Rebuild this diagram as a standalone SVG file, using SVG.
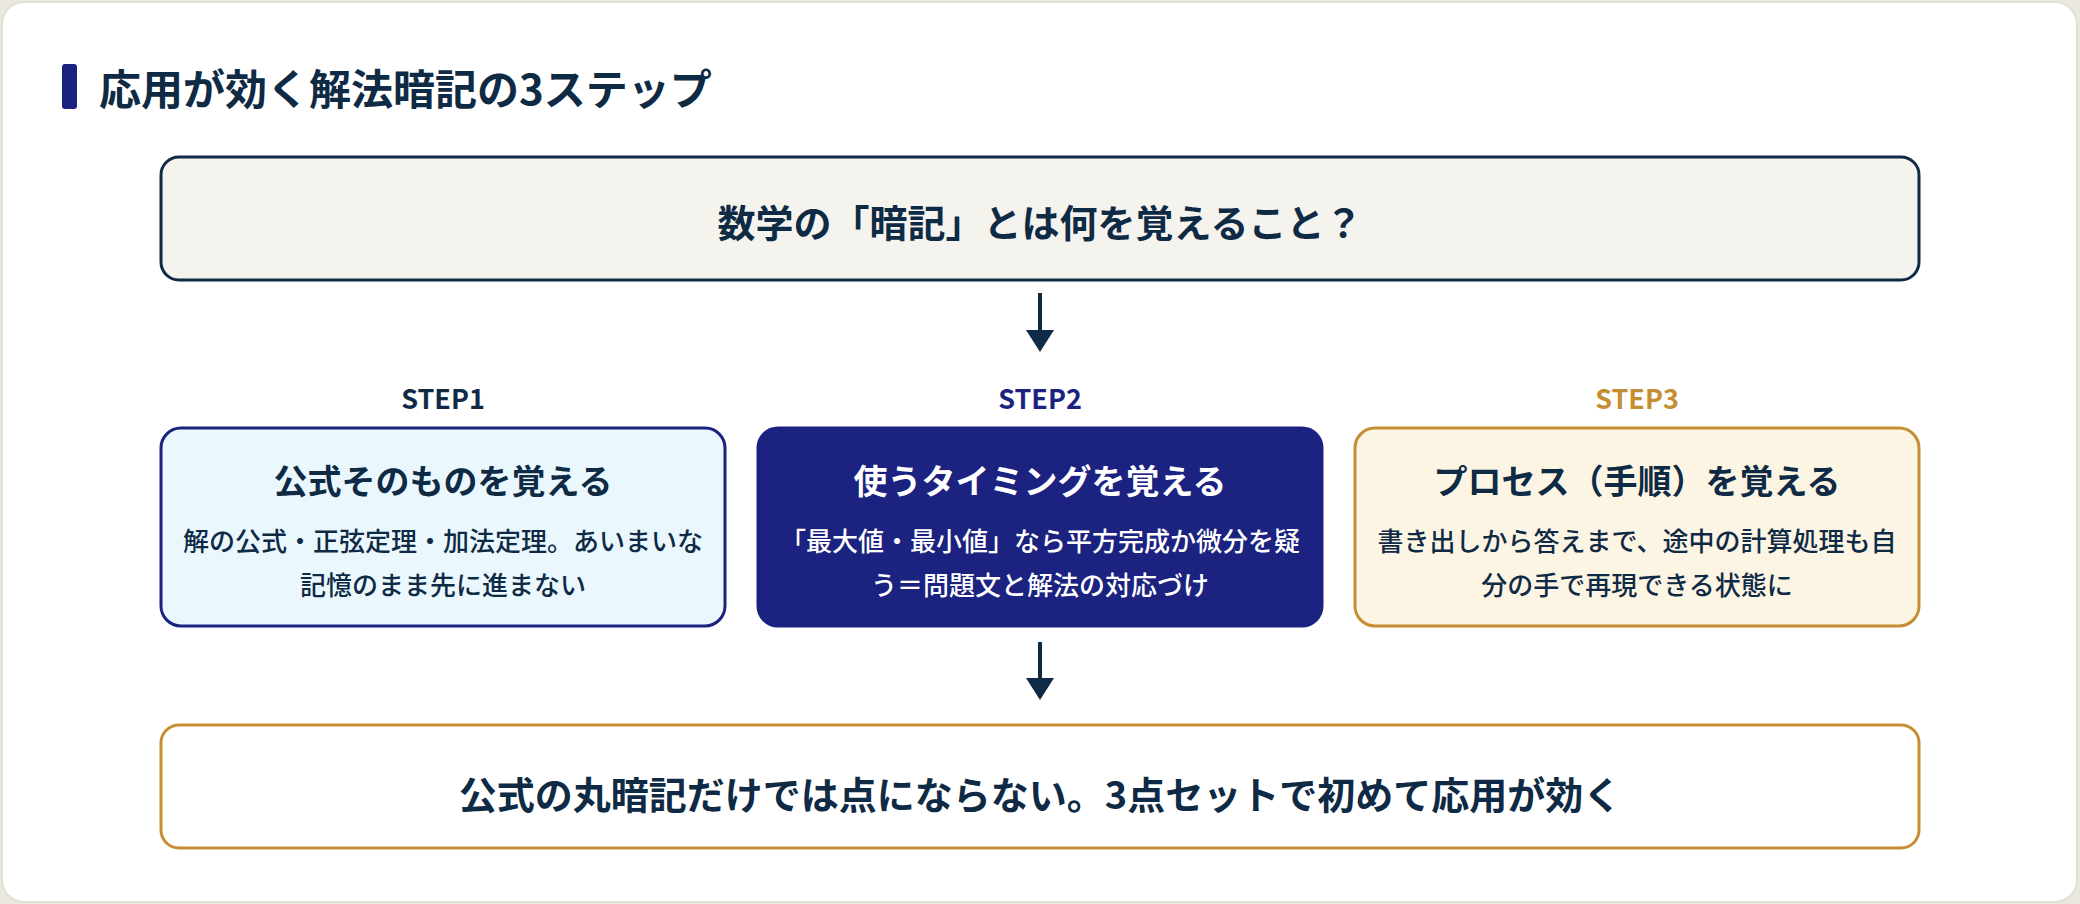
<svg xmlns="http://www.w3.org/2000/svg" width="2080" height="904" viewBox="0 0 2080 904">
  <style>
    text { font-family: "Noto Sans CJK JP", "Noto Sans", sans-serif; }
    .title { font-size: 42px; font-weight: 700; fill: #0f2a44; }
    .big { font-size: 38px; font-weight: 700; fill: #0f2a44; }
    .step { font-size: 27px; font-weight: 700; }
    .head { font-size: 34px; font-weight: 700; fill: #0f2a44; }
    .desc { font-size: 26px; font-weight: 500; fill: #0f2a44; }
    .white { fill: #ffffff; }
    .conn { stroke: #0f2a44; stroke-width: 4; fill: none; }
    .tip { fill: #0f2a44; }
  </style>
  <rect x="0" y="0" width="2080" height="904" fill="#ebe9df"/>
  <rect x="2" y="2" width="2075" height="900" rx="22" fill="#ffffff" stroke="#e2dfd3" stroke-width="2"/>

  <g id="title">
    <rect x="62" y="64" width="15" height="45" rx="3" fill="#1b2280"/>
    <text class="title" x="99" y="86" dominant-baseline="central">応用が効く解法暗記の3ステップ</text>
  </g>

  <g id="question">
    <rect x="161" y="157" width="1758" height="123" rx="18" fill="#f5f3ee" stroke="#0f2a44" stroke-width="3"/>
    <text class="big" x="1040" y="220" text-anchor="middle" dominant-baseline="central">数学の「暗記」とは何を覚えること？</text>
  </g>

  <g id="step1">
    <text class="step" x="443" y="397" text-anchor="middle" dominant-baseline="central" fill="#0f2a44">STEP1</text>
    <rect x="161" y="428" width="564" height="198" rx="20" fill="#eaf8fe" stroke="#1b2280" stroke-width="3"/>
    <text class="head" x="443" y="479" text-anchor="middle" dominant-baseline="central">公式そのものを覚える</text>
    <text class="desc" x="443" y="539" text-anchor="middle" dominant-baseline="central">解の公式・正弦定理・加法定理。あいまいな</text>
    <text class="desc" x="443" y="583" text-anchor="middle" dominant-baseline="central">記憶のまま先に進まない</text>
  </g>

  <g id="step2">
    <text class="step" x="1040" y="397" text-anchor="middle" dominant-baseline="central" fill="#1b2280">STEP2</text>
    <rect x="758" y="428" width="564" height="198" rx="20" fill="#1b2280" stroke="#1b2280" stroke-width="3"/>
    <text class="head white" x="1040" y="479" text-anchor="middle" dominant-baseline="central">使うタイミングを覚える</text>
    <text class="desc white" x="1040" y="539" text-anchor="middle" dominant-baseline="central">「最大値・最小値」なら平方完成か微分を疑</text>
    <text class="desc white" x="1040" y="583" text-anchor="middle" dominant-baseline="central">う＝問題文と解法の対応づけ</text>
  </g>

  <g id="step3">
    <text class="step" x="1637" y="397" text-anchor="middle" dominant-baseline="central" fill="#c68e33">STEP3</text>
    <rect x="1355" y="428" width="564" height="198" rx="20" fill="#fdf5e4" stroke="#c68e33" stroke-width="3"/>
    <text class="head" x="1637" y="479" text-anchor="middle" dominant-baseline="central">プロセス（手順）を覚える</text>
    <text class="desc" x="1637" y="539" text-anchor="middle" dominant-baseline="central">書き出しから答えまで、途中の計算処理も自</text>
    <text class="desc" x="1637" y="583" text-anchor="middle" dominant-baseline="central">分の手で再現できる状態に</text>
  </g>

  <g id="conclusion">
    <rect x="161" y="725" width="1758" height="123" rx="18" fill="#ffffff" stroke="#c68e33" stroke-width="3"/>
    <text class="big" x="1040" y="792" text-anchor="middle" dominant-baseline="central">公式の丸暗記だけでは点にならない。3点セットで初めて応用が効く</text>
  </g>

  <g id="connectors">
    <line class="conn" x1="1040" y1="293" x2="1040" y2="332"/>
    <path class="tip" d="M1026,330 L1054,330 L1040,352 Z"/>
    <line class="conn" x1="1040" y1="642" x2="1040" y2="680"/>
    <path class="tip" d="M1026,678 L1054,678 L1040,700 Z"/>
  </g>
</svg>
